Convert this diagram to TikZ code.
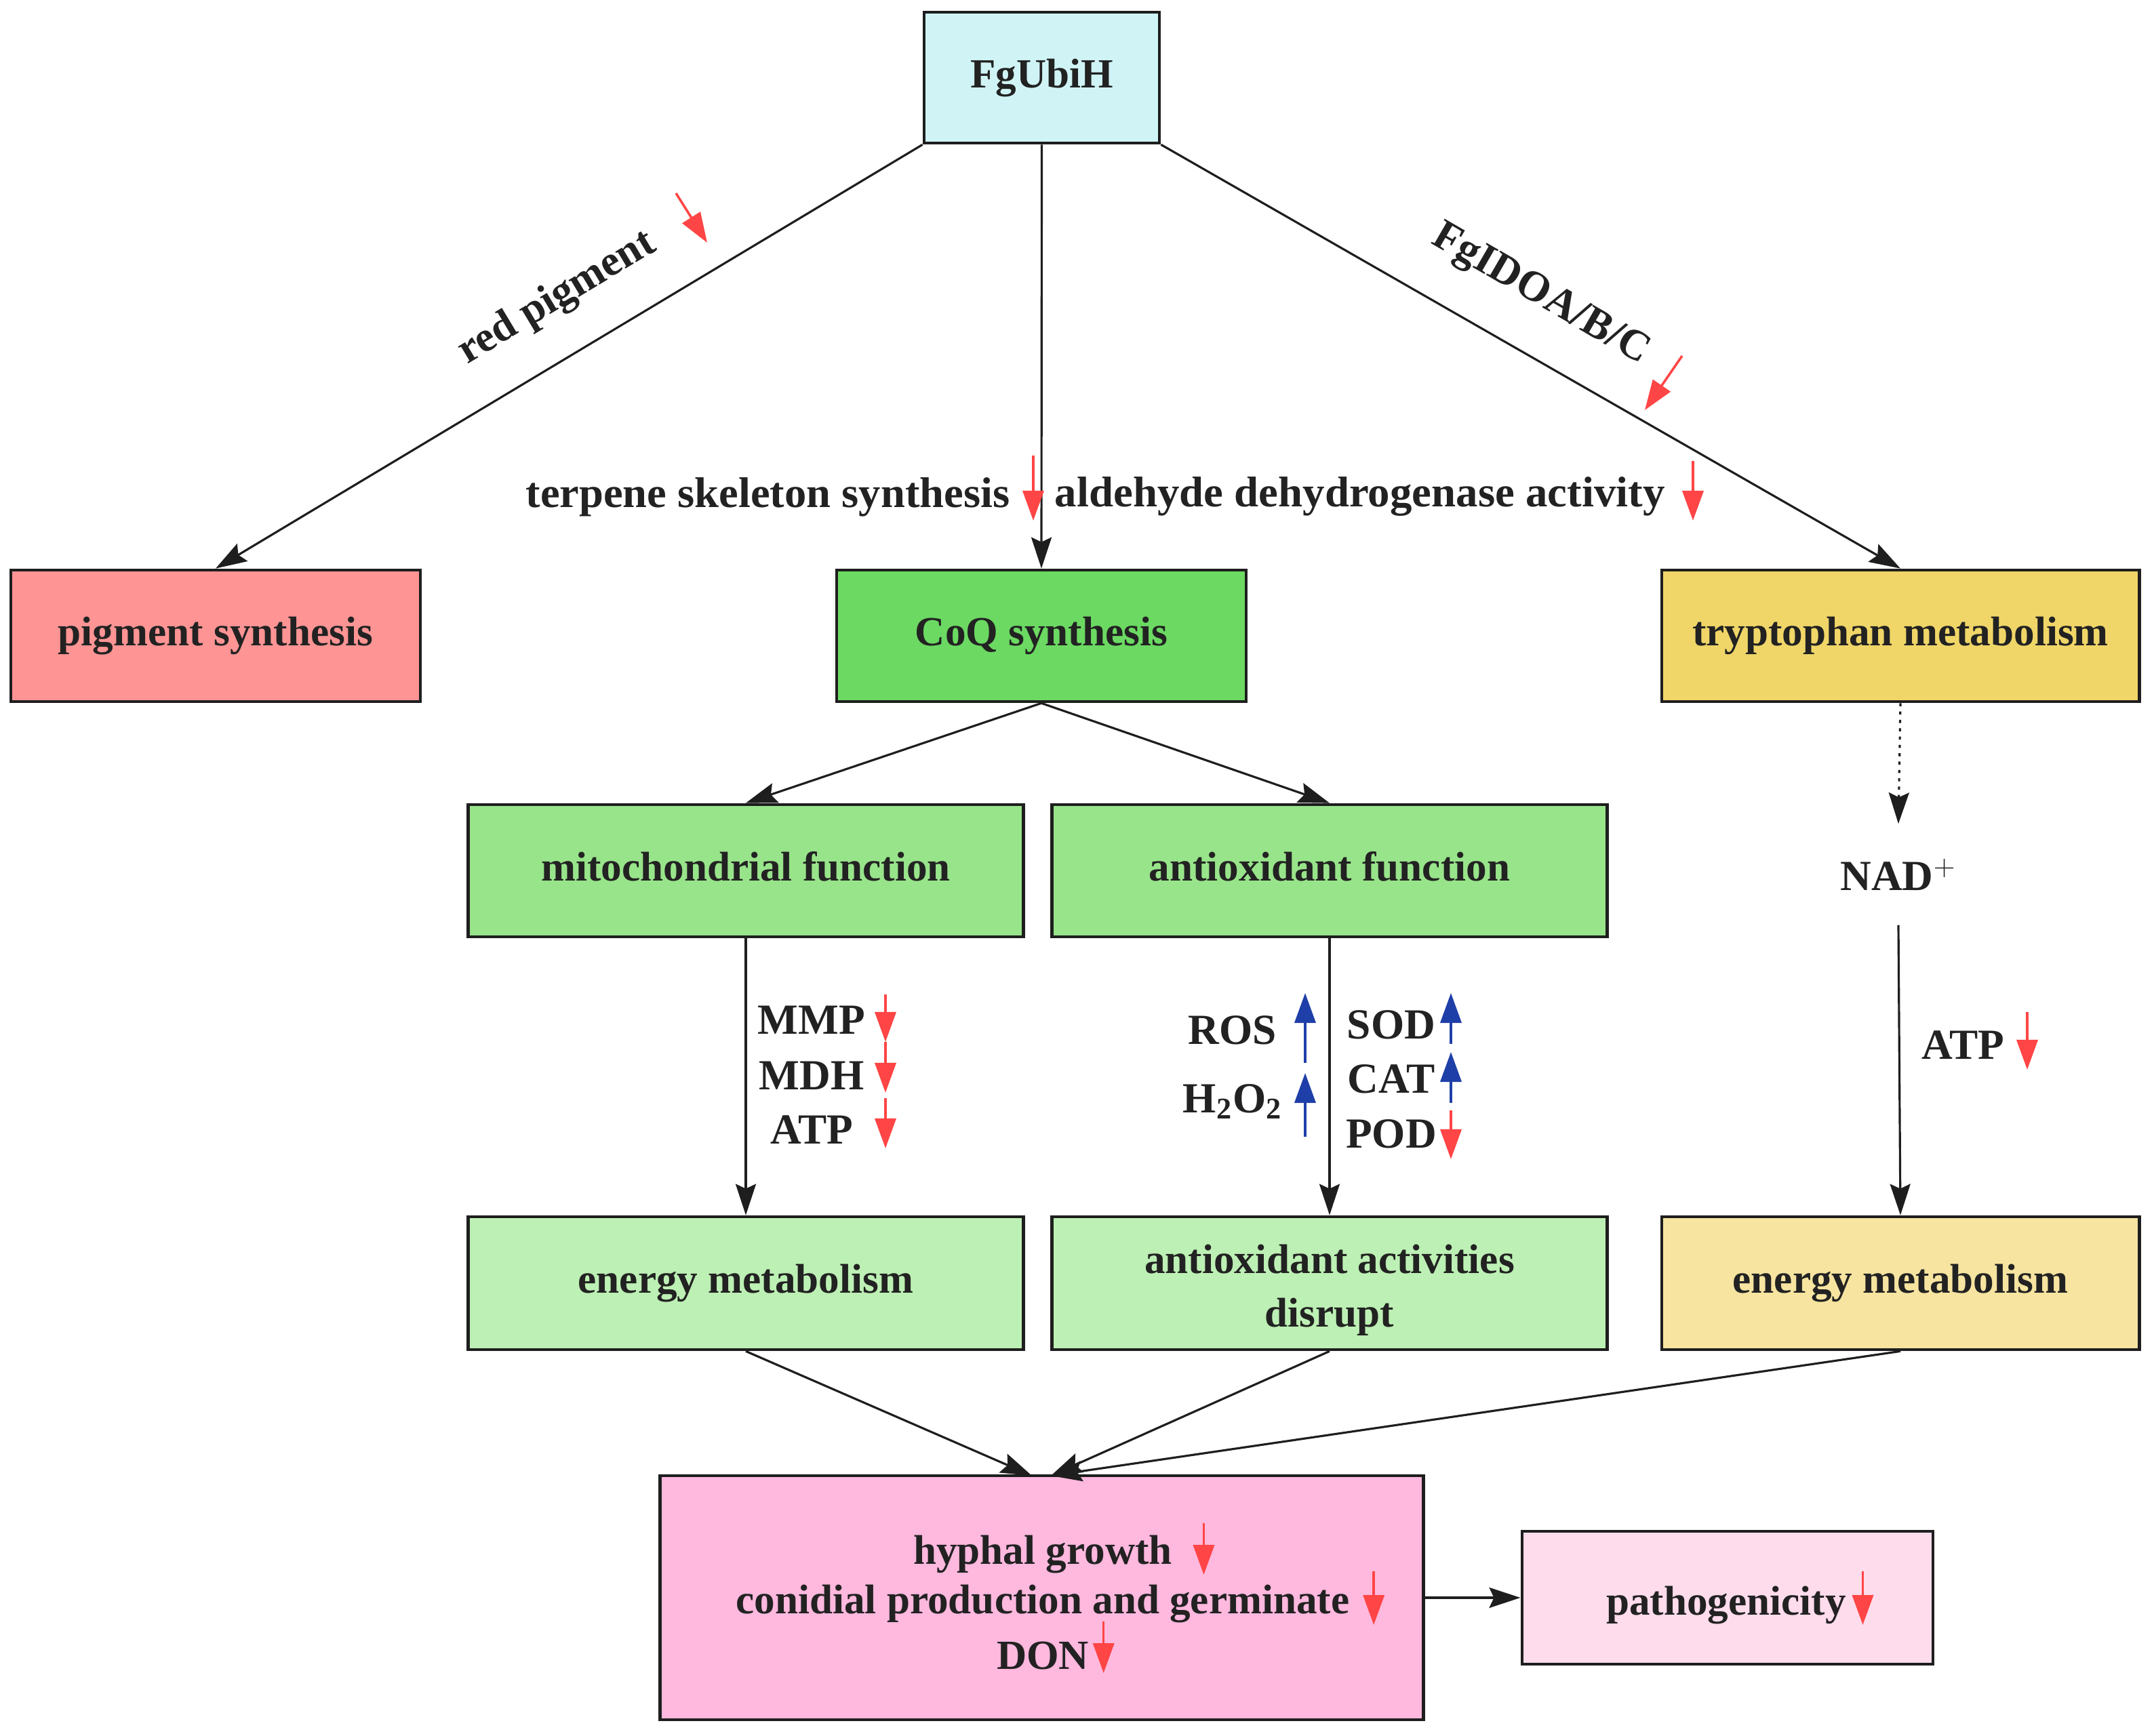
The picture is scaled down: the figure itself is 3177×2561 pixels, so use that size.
\documentclass[tikz,border=0pt]{standalone}
\usepackage{fontspec}
\setmainfont{Liberation Serif}
\usetikzlibrary{arrows.meta,calc}
\definecolor{bord}{HTML}{1E1E1E}
\definecolor{txt}{HTML}{222222}
\definecolor{cFg}{HTML}{D0F4F5}
\definecolor{cPig}{HTML}{FF9494}
\definecolor{cCoq}{HTML}{6BD962}
\definecolor{cTry}{HTML}{F0D668}
\definecolor{cMid}{HTML}{98E48A}
\definecolor{cLow}{HTML}{BDF0B4}
\definecolor{cEnR}{HTML}{F6E4A0}
\definecolor{cHy}{HTML}{FFB8DE}
\definecolor{cPat}{HTML}{FFDCEC}
\definecolor{redA}{HTML}{FF4545}
\definecolor{blueA}{HTML}{1F3FA8}
\begin{document}
\begin{tikzpicture}[x=0.01cm, y=-0.01cm,
  font=\fontsize{18}{22}\selectfont\bfseries,
  boxfont/.style={font=\fontsize{17.4}{22.4}\selectfont\bfseries},
  pbox/.style n args={3}{draw=bord, line width=1.3pt, fill=#1, minimum width=#2mm, minimum height=#3mm, inner sep=0pt, text=txt, boxfont, text height=0.85em, text depth=0pt},
  lbl/.style={inner sep=0pt, text=txt},
  conn/.style={draw=bord, line width=0.9pt, -{Stealth[length=4.6mm,width=3mm,inset=0.7mm]}},
  dn/.style={draw=redA, line width=1pt, -{Triangle[length=4.4mm,width=3.1mm]}},
  upb/.style={draw=blueA, line width=1pt, -{Triangle[length=4.4mm,width=3.1mm]}}]
\useasboundingbox (0,0) rectangle (3177,2561);

% boxes
\node[pbox={cFg}{34.7}{19.3}] (fg) at (1536.5,114.5) {FgUbiH};
\node[pbox={cPig}{60.4}{19.4}] (pig) at (318,938) {pigment synthesis};
\node[pbox={cCoq}{60.4}{19.4}] (coq) at (1536,938) {CoQ synthesis};
\node[pbox={cTry}{70.4}{19.4}] (try) at (2803,938) {tryptophan metabolism};
\node[pbox={cMid}{81.8}{19.5}] (mito) at (1100,1284.5) {mitochondrial function};
\node[pbox={cMid}{81.8}{19.5}] (anti) at (1961,1284.5) {antioxidant function};
\node[pbox={cLow}{81.8}{19.6}] (enL) at (1100,1893) {energy metabolism};
\node[pbox={cLow}{81.8}{19.6}] (act) at (1961,1893) {};
\node[pbox={cEnR}{70.4}{19.6}] (enR) at (2803,1893) {energy metabolism};
\node[pbox={cHy}{112.5}{36}] (hy) at (1536.5,2357) {};
\node[pbox={cPat}{60.6}{19.6}] (pat) at (2548,2357) {};

% texts
\node[lbl, boxfont, align=center] (actt) at (1961,1903) {antioxidant activities\\disrupt};
\node[lbl, boxfont] (h1) at (1538,2293) {hyphal growth};
\node[lbl, boxfont] (h2) at (1538,2366) {conidial production and germinate};
\node[lbl, boxfont] (h3) at (1538,2443) {DON};
\node[lbl, boxfont] (p1) at (2546,2368) {pathogenicity};

\node[lbl, anchor=east] (terp) at (1490,733) {\scalebox{1.02}[1]{terpene skeleton synthesis}};
\node[lbl, anchor=west] (ald) at (1555,733) {\scalebox{1.025}[1]{aldehyde dehydrogenase activity}};
\node[lbl, rotate=31] (redp) at (822,440) {red pigment};
\node[lbl, rotate=-30] (ido) at (2272,436) {FgIDOA/B/C};

\node[lbl] (mmp) at (1197,1505) {MMP};
\node[lbl] (mdh) at (1197,1587) {MDH};
\node[lbl] (atp1) at (1197,1667) {ATP};
\node[lbl] (ros) at (1818,1520) {ROS};
\node[lbl] (hoo) at (1818,1625) {H\textsubscript{2}O\textsubscript{2}};
\node[lbl] (sod) at (2052,1512) {SOD};
\node[lbl] (cat) at (2052,1592) {CAT};
\node[lbl] (pod) at (2052,1673) {POD};
\node[lbl, minimum height=14.8mm] (nad) at (2800,1290) {NAD$^{+}$};
\node[lbl] (atp2) at (2895,1542) {ATP};

% connectors
\draw[conn] (fg.south west) -- (pig.north);
\draw[conn] (fg.south) -- (coq.north);
\draw[conn] (fg.south east) -- (try.north);
\draw[conn] (coq.south) -- (mito.north);
\draw[conn] (coq.south) -- (anti.north);
\draw[conn] (mito.south) -- (enL.north);
\draw[conn] (anti.south) -- (act.north);
\draw[conn, dash pattern=on 1.3pt off 2.2pt] (try.south) -- (nad.north);
\draw[conn] (nad.south) -- (enR.north);
\coordinate (hyL) at (1522,2177);
\coordinate (hyR) at (1550,2177);
\draw[conn] (enL.south) -- (hyL);
\draw[conn] (act.south) -- (hyR);
\draw[conn] (enR.south) -- (hyR);
\draw[conn] (hy.east) -- (pat.west);

% indicator arrows
\draw[dn] (997,285) -- (1043,358);
\draw[dn] (2481,525) -- (2426,605);
\draw[dn] (1524,672) -- (1524,768);
\draw[dn] (2497,680) -- (2497,768);
\draw[dn] (1306,1467) -- (1306,1537);
\draw[dn] (1306,1537) -- (1306,1612);
\draw[dn] (1306,1620) -- (1306,1694);
\draw[upb] (1925,1568) -- (1925,1465);
\draw[upb] (1925,1677) -- (1925,1583);
\draw[upb] (2140,1540) -- (2140,1465);
\draw[upb] (2140,1627) -- (2140,1552);
\draw[dn] (2140,1638) -- (2140,1710);
\draw[dn] (2990,1493) -- (2990,1578);
\draw[dn] ([xshift=4.6mm, yshift=4.6mm]h1.east) -- ([xshift=4.6mm, yshift=-3.0mm]h1.east);
\draw[dn] ([xshift=3.5mm, yshift=4.8mm]h2.east) -- ([xshift=3.5mm, yshift=-3.1mm]h2.east);
\draw[dn] ([xshift=2.1mm, yshift=5.1mm]h3.east) -- ([xshift=2.1mm, yshift=-2.5mm]h3.east);
\draw[dn] ([xshift=2.4mm, yshift=5.0mm]p1.east) -- ([xshift=2.4mm, yshift=-2.9mm]p1.east);
\end{tikzpicture}
\end{document}
